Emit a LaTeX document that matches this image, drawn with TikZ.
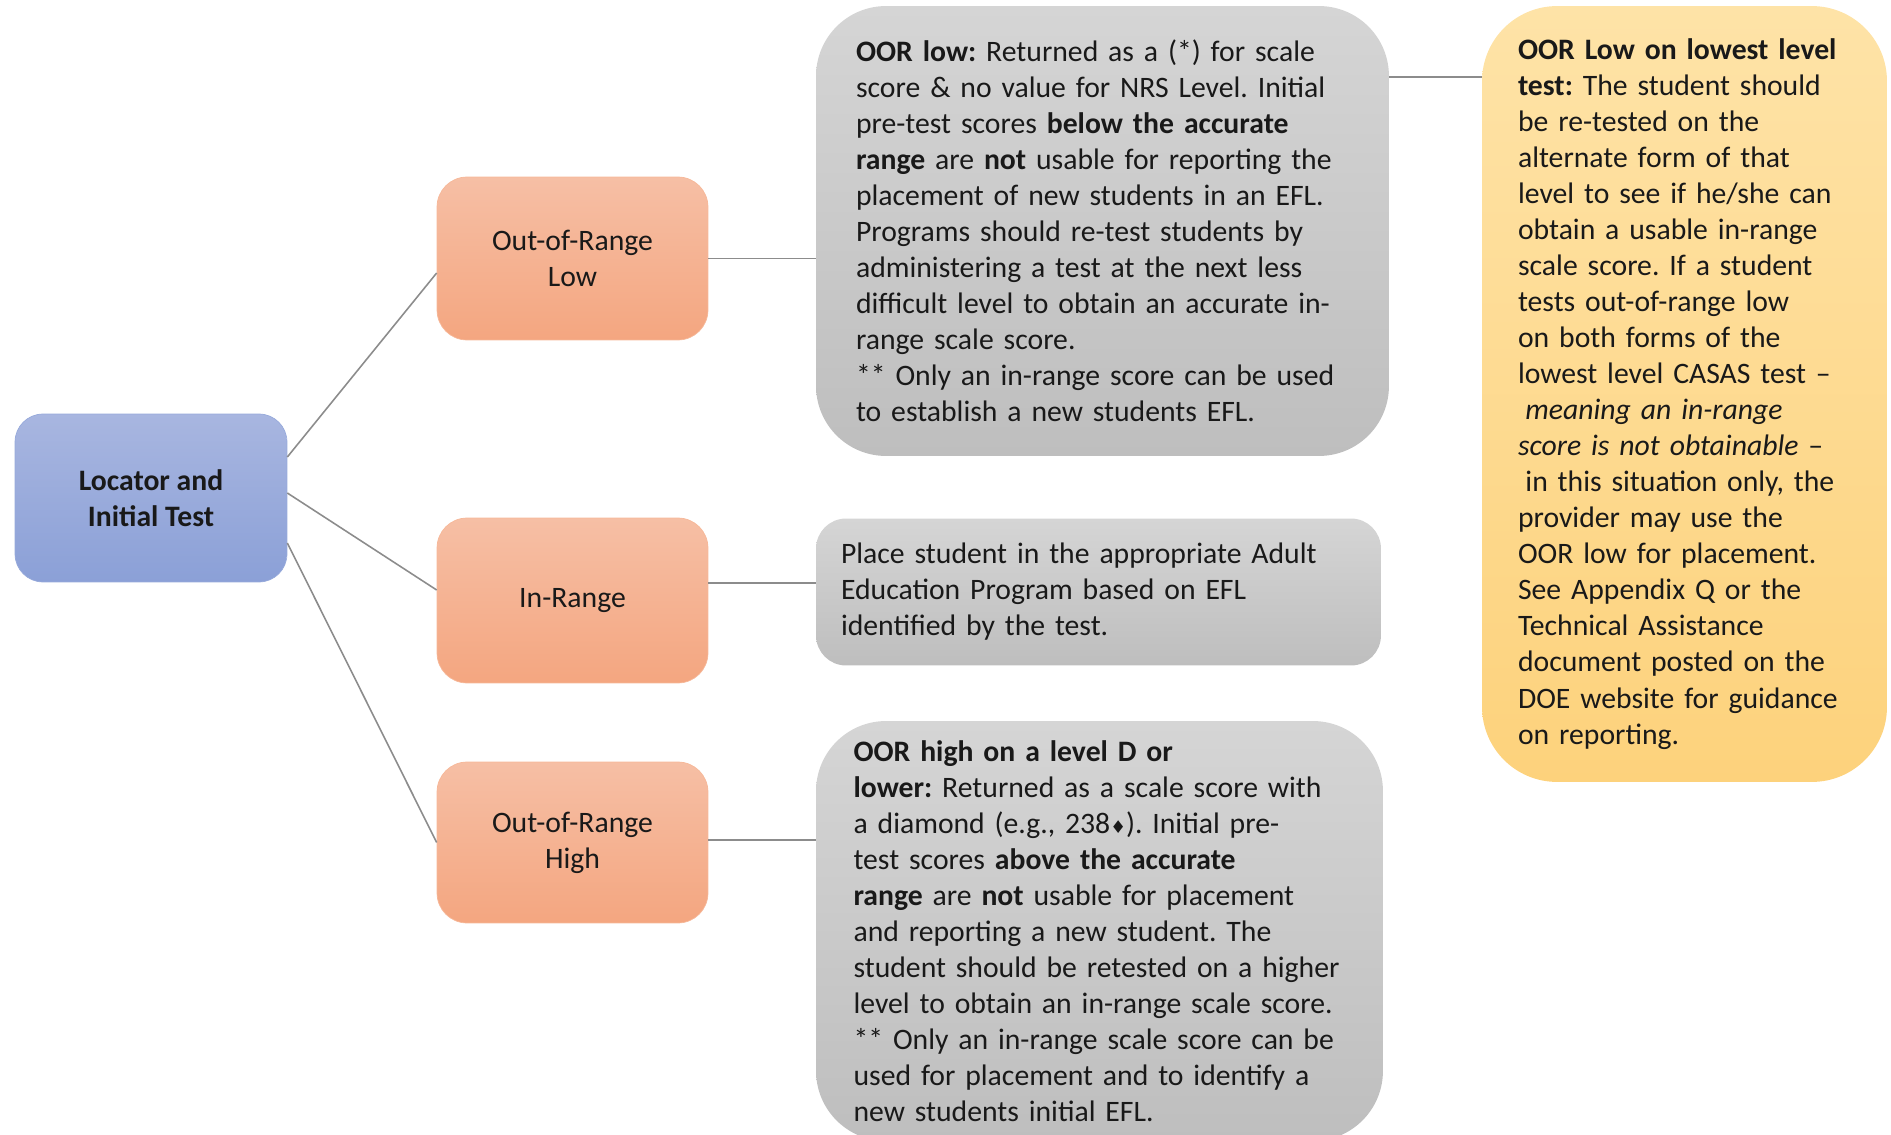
\documentclass[tikz,border=0pt]{standalone}
\usepackage{fontspec}
\setmainfont{Carlito}
\newfontfamily\symfont{DejaVu Sans}
\frenchspacing

\definecolor{locA}{HTML}{A8B6E0}
\definecolor{locB}{HTML}{8BA0D7}
\definecolor{rngA}{HTML}{F6BFA5}
\definecolor{rngB}{HTML}{F4A680}
\definecolor{noteA}{HTML}{D5D5D5}
\definecolor{noteB}{HTML}{BEBEBE}
\definecolor{warnA}{HTML}{FEE3A7}
\definecolor{warnB}{HTML}{FDD27C}
\definecolor{linkgray}{HTML}{8C8C8C}

\begin{document}
\begin{tikzpicture}[x=0.02cm, y=-0.02cm,
    txt/.style={inner sep=0pt, text=black!90, font=\fontsize{16.9}{20.5}\selectfont\frenchspacing},
    rootbox/.style={txt, rounded corners=0.56cm, top color=locA, bottom color=locB, draw=locB!90,
        minimum width=5.44cm, minimum height=3.36cm, align=center, font=\fontsize{16.9}{20.5}\selectfont\bfseries},
    rangebox/.style={txt, rounded corners=0.6cm, top color=rngA, bottom color=rngB, draw=rngB!80,
        minimum width=5.42cm, minimum height=3.26cm, align=center},
    notebox/.style={txt, top color=noteA, bottom color=noteB, align=left},
    warnbox/.style={txt, rounded corners=1.5cm, top color=warnA, bottom color=warnB, align=left,
        minimum width=8.1cm, minimum height=15.52cm, text width=6.66cm},
    link/.style={draw=linkgray, line width=0.9pt}]

     \clip (0,0) rectangle (1891,1135);

     \node[rootbox] (loc) at (151,498) {Locator and\\Initial Test};

     \node[rangebox] (low)  at (572.5,258.5) {Out-of-Range\\Low};
     \node[rangebox, minimum height=3.3cm] (inr) at (572.5,600.5) {In-Range};
     \node[rangebox, minimum height=3.22cm] (high) at (572.5,842.5) {Out-of-Range\\High};

     \node[notebox, rounded corners=1.4cm, minimum width=11.46cm, minimum height=9cm, text width=9.86cm] (note1) at (1102.5,231) {%
\textbf{OOR low:} Returned as a (*) for scale\\
score \& no value for NRS Level. Initial\\
pre-test scores \textbf{below the accurate}\\
\textbf{range} are \textbf{not} usable for reporting the\\
placement of new students in an EFL.\\
Programs should re-test students by\\
administering a test at the next less\\
difficult level to obtain an accurate in-\\
range scale score.\\{}
** Only an in-range score can be used\\
to establish a new students EFL.};

     \node[notebox, rounded corners=0.6cm, minimum width=11.3cm, minimum height=2.94cm, text width=10.3cm] (note2) at (1098.5,592) {%
Place student in the appropriate Adult\\
Education Program based on EFL\\
identified by the test.};

     \node[notebox, rounded corners=1.4cm, minimum width=11.34cm, minimum height=8.4cm, text width=9.84cm] (note3) at (1099.5,931) {%
\textbf{OOR high on a level D or}\\
\textbf{lower:} Returned as a scale score with\\
a diamond (e.g., 238{\symfont\fontsize{10}{10}\selectfont ♦}). Initial pre-\\
test scores \textbf{above the accurate}\\
\textbf{range} are \textbf{not} usable for placement\\
and reporting a new student. The\\
student should be retested on a higher\\
level to obtain an in-range scale score.\\{}
** Only an in-range scale score can be\\
used for placement and to identify a\\
new students initial EFL.};

     \node[warnbox] (lowest) at (1684.5,394) {%
\textbf{OOR Low on lowest level}\\
\textbf{test:} The student should\\
be re-tested on the\\
alternate form of that\\
level to see if he/she can\\
obtain a usable in-range\\
scale score. If a student\\
tests out-of-range low\\
on both forms of the\\
lowest level CASAS test –\\
\hspace{0.25em}\textit{meaning an in-range}\\
\textit{score is not obtainable} –\\
\hspace{0.25em}in this situation only, the\\
provider may use the\\
OOR low for placement.\\
See Appendix Q or the\\
Technical Assistance\\
document posted on the\\
DOE website for guidance\\
on reporting.};

     \draw[link] ([yshift=0.82cm]loc.east) -- ([yshift=-0.29cm]low.west);
     \draw[link] ([yshift=0.1cm]loc.east) -- ([yshift=0.21cm]inr.west);
     \draw[link] ([yshift=-0.9cm]loc.east) -- (high.west);

     \coordinate (lowout) at (low.east);
     \coordinate (inrout) at ([yshift=0.35cm]inr.east);
     \coordinate (highout) at ([yshift=0.05cm]high.east);
     \coordinate (noteout) at ([yshift=3.08cm]note1.east);
     \draw[link] (lowout) -- (lowout -| note1.west);
     \draw[link] (inrout) -- (inrout -| note2.west);
     \draw[link] (highout) -- (highout -| note3.west);
     \draw[link] (noteout) -- (noteout -| lowest.west);

   \end{tikzpicture}
\end{document}
